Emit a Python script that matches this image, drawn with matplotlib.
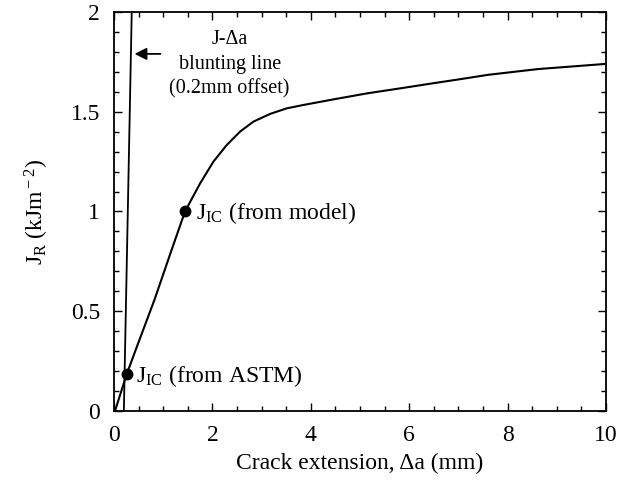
import matplotlib.pyplot as plt
from matplotlib.ticker import MultipleLocator

plt.rcParams['font.family'] = ['Liberation Serif', 'DejaVu Serif']
plt.rcParams['mathtext.fontset'] = 'custom'
plt.rcParams['mathtext.rm'] = 'Liberation Serif'
plt.rcParams['mathtext.it'] = 'Liberation Serif'

# R-curve
crack_ext = [0.02, 0.258, 0.49, 0.82, 1.17, 1.443, 1.75, 2.02, 2.29, 2.56,
             2.83, 3.17, 3.51, 3.85, 4.46, 5.14, 5.81, 6.49, 7.03, 7.6, 8.62, 10]
j_r = [0, 0.185, 0.339, 0.556, 0.807, 1.0, 1.141, 1.25, 1.333, 1.40,
       1.45, 1.489, 1.517, 1.534, 1.562, 1.592, 1.617, 1.643, 1.663, 1.685,
       1.714, 1.74]

# blunting line, 0.2 mm offset
blunt_x = [0.2, 0.36]
blunt_j = [0.0, 2.0]

# J_IC points
jic_x = [0.258, 1.443]
jic_j = [0.185, 1.0]
jic_labels = [r'J$_{\rm IC}$ (from ASTM)', r'J$_{\rm IC}$ (from model)']

fig = plt.figure(figsize=(6.18, 4.96), dpi=100)
ax = fig.add_axes([0.1845, 0.1714, 0.7961, 0.8044])

ax.plot(crack_ext, j_r, color='black', lw=1.5)
ax.plot(blunt_x, blunt_j, color='black', lw=1.3)
ax.plot(jic_x, jic_j, 'o', color='black', ms=7.5)

ax.text(0.45, 0.175, jic_labels[0], fontsize=17, va='center', ha='left')
ax.text(1.66, 0.99, jic_labels[1], fontsize=17, va='center', ha='left')

ax.annotate('', xy=(0.36, 1.79), xytext=(1.0, 1.79),
            arrowprops=dict(arrowstyle='-|>', color='black', lw=1.3,
                            mutation_scale=18))
ax.text(2.35, 1.86, 'J-\u0394a', fontsize=14.5, ha='center', va='center')
ax.text(2.35, 1.735, 'blunting line', fontsize=14.5, ha='center', va='center')
ax.text(2.35, 1.615, '(0.2mm offset)', fontsize=14.5, ha='center', va='center')

ax.set_xlim(0, 10)
ax.set_ylim(0, 2)
ax.xaxis.set_major_locator(MultipleLocator(2))
ax.xaxis.set_minor_locator(MultipleLocator(0.5))
ax.yaxis.set_minor_locator(MultipleLocator(0.1))
ax.set_yticks([0, 0.5, 1, 1.5, 2])
ax.set_yticklabels(['0', '0.5', '1', '1.5', '2'])
ax.tick_params(which='both', direction='in', top=True, right=True,
               labelsize=17, width=1)
ax.tick_params(which='major', length=6, pad=10)
ax.tick_params(which='minor', length=3.5)
for s in ax.spines.values():
    s.set_linewidth(1.3)

ax.set_xlabel('Crack extension, \u0394a (mm)', fontsize=17, labelpad=5)
ax.set_ylabel(r'J$_{\rm R}$ (kJm$^{\rm -2}$)', fontsize=17, labelpad=14)

fig.savefig('out.png', dpi=100)
